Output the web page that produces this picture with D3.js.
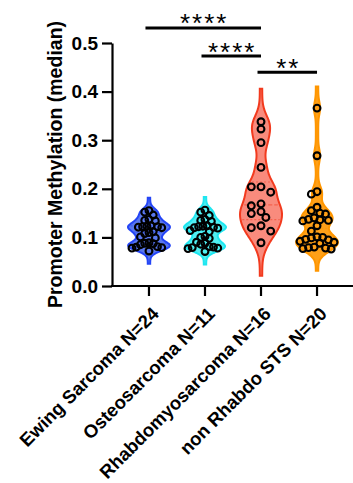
<!DOCTYPE html>
<html>
<head>
<meta charset="utf-8">
<script src="https://cdn.jsdelivr.net/npm/d3@7"></script>
<style>
  html, body { margin: 0; padding: 0; background: #fff; }
  svg { display: block; }
  text { font-family: "Liberation Sans", Arial, sans-serif; }
</style>
</head>
<body>
<svg id="chart" width="353" height="483"></svg>
<script>
// Tumour groups and per-sample median promoter methylation
const categories = ["Ewing Sarcoma N=24", "Osteosarcoma N=11", "Rhabdomyosarcoma N=16", "non Rhabdo STS N=20"];
const ewingValues = [0.155, 0.152, 0.146, 0.137, 0.135, 0.134, 0.124, 0.123, 0.122, 0.122, 0.121, 0.120,
  0.112, 0.110, 0.108, 0.101, 0.099, 0.089, 0.088, 0.087, 0.085, 0.081, 0.080, 0.079, 0.078, 0.072];
const osteoValues = [0.156, 0.152, 0.145, 0.137, 0.135, 0.133, 0.124, 0.123, 0.122, 0.121, 0.120, 0.119,
  0.114, 0.112, 0.102, 0.100, 0.098, 0.090, 0.088, 0.086, 0.081, 0.080, 0.079, 0.078, 0.077, 0.071];
const rhabdoValues = [0.338, 0.323, 0.295, 0.244, 0.204, 0.204, 0.193, 0.169, 0.165, 0.153, 0.149, 0.141,
  0.124, 0.120, 0.113, 0.089];
const nonRhabdoValues = [0.366, 0.268, 0.194, 0.189, 0.162, 0.155, 0.150, 0.148, 0.140, 0.137, 0.136, 0.135,
  0.134, 0.124, 0.113, 0.101, 0.100, 0.099, 0.096, 0.095, 0.092, 0.090, 0.088, 0.080, 0.079, 0.078, 0.077, 0.076];
const seriesValues = [ewingValues, osteoValues, rhabdoValues, nonRhabdoValues];
const fillColors = ["#5a78ee", "#50eff2", "#f98b7d", "#ffa018"];
const strokeColors = ["#2445f6", "#1fe6f0", "#f23a1e", "#ff9600"];
const yTicks = [0.0, 0.1, 0.2, 0.3, 0.4, 0.5];
// Pairwise comparisons: group indices, significance label, bracket level (in y units)
const compFrom = [0, 1, 2];
const compTo = [2, 2, 3];
const compLabels = ["****", "****", "**"];
const compLevels = [0.531, 0.473, 0.440];

const svg = d3.select("#chart");
const font = '"Liberation Sans", Arial, sans-serif';

const y = d3.scaleLinear().domain([0, 0.5]).range([286, 43]);
const x = d3.scaleBand().domain(categories).range([112, 354]).paddingInner(0).paddingOuter(0.16);
const cx = c => x(c) + x.bandwidth() / 2;

// ---- violins (Gaussian KDE) ----
function quantiles(v) {
  const s = v.slice().sort(d3.ascending);
  return [d3.quantile(s, 0.25), d3.quantile(s, 0.5), d3.quantile(s, 0.75)];
}
function kdeShape(v) {
  const s = v.slice().sort(d3.ascending);
  const n = s.length;
  const sd = d3.deviation(s);
  const iqr = d3.quantile(s, 0.75) - d3.quantile(s, 0.25);
  const bw = 0.65 * 0.9 * Math.min(sd, iqr / 1.34) * Math.pow(n, -0.2);
  const lo = s[0] - 3.5 * bw, hi = s[n - 1] + 3.5 * bw;
  const steps = 160;
  const pts = [];
  for (let i = 0; i <= steps; i++) {
    const t = lo + (hi - lo) * i / steps;
    let d = 0;
    for (const xi of s) { const u = (t - xi) / bw; d += Math.exp(-0.5 * u * u); }
    pts.push([t, d]);
  }
  const maxD = d3.max(pts, p => p[1]);
  return pts.map(p => [p[0], p[1] / maxD]);
}

const maxHalf = 21;
const violinG = svg.append("g");
categories.forEach((c, i) => {
  const shape = kdeShape(seriesValues[i]);
  const w = d3.scaleLinear().domain([0, 1]).range([1.2, maxHalf]);
  const area = d3.area()
    .y(p => y(p[0]))
    .x0(p => cx(c) - w(p[1]))
    .x1(p => cx(c) + w(p[1]))
    .curve(d3.curveBasis);
  violinG.append("path")
    .datum(shape)
    .attr("d", area)
    .attr("fill", fillColors[i])
    .attr("stroke", strokeColors[i])
    .attr("stroke-width", 2);

  // median and quartile lines
  const q = quantiles(seriesValues[i]);
  const widthAt = val => {
    const k = d3.bisector(p => p[0]).left(shape, val);
    const p = shape[Math.min(k, shape.length - 1)];
    return w(p[1]) - 2;
  };
  q.forEach((val, j) => {
    violinG.append("line")
      .attr("x1", cx(c) - widthAt(val)).attr("x2", cx(c) + widthAt(val))
      .attr("y1", y(val)).attr("y2", y(val))
      .attr("stroke", strokeColors[i])
      .attr("stroke-opacity", 0.5)
      .attr("stroke-width", 1.2)
      .attr("stroke-dasharray", j === 1 ? "4,2" : "2,2");
  });
});

// ---- points: lattice beeswarm, squeezed to fit inside each violin ----
const r = 3.4, stepX = 9.7, gapY = 6.5, maxSpread = 17;
const pointG = svg.append("g");
categories.forEach((c, i) => {
  const placed = [];
  seriesValues[i].slice().sort(d3.descending).forEach(v => {
    const py = y(v);
    const near = placed.filter(p => Math.abs(p.y - py) < gapY);
    const clash = dx => near.some(p => {
      const a = (p.dx - dx) / stepX, b = (p.y - py) / gapY;
      return a * a + b * b < 0.999;
    });
    const leftN = near.filter(p => p.dx < 0).length, rightN = near.filter(p => p.dx > 0).length;
    let dx = 0;
    for (let k = 0; k < 30; k++) {
      const cands = k === 0 ? [0] : (leftN <= rightN ? [-k * stepX / 2, k * stepX / 2] : [k * stepX / 2, -k * stepX / 2]);
      const hit = cands.find(cd => !clash(cd));
      if (hit !== undefined) { dx = hit; break; }
    }
    placed.push({ dx, y: py, v });
  });
  const spread = d3.max(placed, p => Math.abs(p.dx)) || 1;
  const squeeze = Math.min(1, maxSpread / spread);
  pointG.selectAll(null)
    .data(placed)
    .join("circle")
    .attr("cx", p => cx(c) + p.dx * squeeze)
    .attr("cy", p => y(p.v))
    .attr("r", r)
    .attr("fill", "none")
    .attr("stroke", "#000")
    .attr("stroke-width", 2.1);
});

// ---- axes ----
const yAxis = d3.axisLeft(y).tickValues(yTicks).tickFormat(d3.format(".1f")).tickSize(10).tickSizeOuter(0).tickPadding(4);
const gy = svg.append("g").attr("transform", "translate(112,0)").call(yAxis);
gy.select(".domain").attr("stroke-width", 2.2);
gy.selectAll(".tick line").attr("stroke-width", 2.2);
gy.selectAll(".tick text")
  .attr("font-family", font).attr("font-weight", "bold").attr("font-size", 19).attr("fill", "#000");

const xAxis = d3.axisBottom(x).tickSize(10).tickSizeOuter(0).tickFormat("");
const gx = svg.append("g").attr("transform", "translate(0,286)").call(xAxis);
gx.select(".domain").attr("stroke-width", 2.2).attr("d", "M111,0H353");
gx.selectAll(".tick line").attr("stroke-width", 2.2);

svg.append("g").selectAll("text")
  .data(categories)
  .join("text")
  .attr("transform", c => `translate(${cx(c) + 11},315) rotate(-45)`)
  .attr("text-anchor", "end")
  .attr("font-family", font).attr("font-weight", "bold").attr("font-size", 18.5)
  .text(c => c);

svg.append("text")
  .attr("transform", `translate(62,${(y(0) + y(0.5)) / 2}) rotate(-90)`)
  .attr("text-anchor", "middle")
  .attr("font-family", font).attr("font-weight", "bold").attr("font-size", 19.5)
  .text("Promoter Methylation (median)");

// ---- significance brackets ----
const sigG = svg.append("g");
compFrom.forEach((a, k) => {
  const x1 = cx(categories[a]) - 3.5;
  const x2 = cx(categories[compTo[k]]);
  const ly = y(compLevels[k]);
  sigG.append("line")
    .attr("x1", x1).attr("x2", x2).attr("y1", ly).attr("y2", ly)
    .attr("stroke", "#000").attr("stroke-width", 3);
  sigG.append("text")
    .attr("x", (x1 + x2) / 2 + 1).attr("y", ly + 4.5)
    .attr("text-anchor", "middle")
    .attr("font-family", font).attr("font-size", 26).attr("letter-spacing", "2px")
    .text(compLabels[k]);
});
</script>
</body>
</html>
